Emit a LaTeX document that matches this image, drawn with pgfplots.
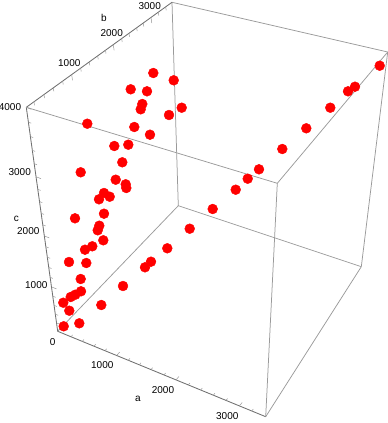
\documentclass[border=0pt]{standalone}
\usepackage{fontspec}
\setmainfont{Liberation Sans}
\usepackage{pgfplots}
\pgfplotsset{compat=1.18}
\definecolor{boxc}{HTML}{9A9A9A}
\definecolor{axc}{HTML}{707070}
\definecolor{txt}{HTML}{404040}
\begin{document}
\begin{tikzpicture}
\useasboundingbox (0,0) rectangle (388pt,423pt);
\begin{axis}[
  at={(0,0)}, anchor=south west,
  scale only axis, width=388pt, height=423pt,
  xmin=0, xmax=388, ymin=0, ymax=423, y dir=reverse,
  hide axis, clip=false, unbounded coords=jump,
  every node/.append style={font=\fontsize{9.3pt}{10pt}\selectfont, text=txt, inner sep=0pt},
]
% back box edges
\addplot[boxc, line width=0.75pt, no markers] table {
x y
57.7 331.3
178.3 205.7
nan nan
178.3 205.7
361.3 266.7
nan nan
178.3 205.7
172 2.3
nan nan
265.7 416.7
361.3 266.7
nan nan
361.3 266.7
387.7 52
nan nan
172 2.3
387.7 52
};
% axis edges
\addplot[axc, line width=0.85pt, no markers] table {
x y
57.7 331.3
265.7 416.7
nan nan
57.7 331.3
26.3 107.3
nan nan
26.3 107.3
172 2.3
};
% ticks
\addplot[boxc, line width=0.5pt, no markers] table {
x y
57.7 331.3
60.6 327.9
nan nan
71 336.8
72.6 334.9
nan nan
82.3 341.4
83.9 339.5
nan nan
94 346.2
95.6 344.3
nan nan
105 350.7
106.6 348.8
nan nan
116.7 355.5
119.6 352.1
nan nan
128.3 360.3
129.9 358.4
nan nan
139.3 364.8
140.9 362.9
nan nan
151 369.6
152.6 367.7
nan nan
164 374.9
165.6 373
nan nan
176 379.9
178.9 376.5
nan nan
188.3 384.9
189.9 383
nan nan
200.7 390
202.3 388.1
nan nan
213.3 395.2
214.9 393.3
nan nan
226 400.4
227.6 398.5
nan nan
239.3 405.9
242.2 402.5
nan nan
251.7 411
253.3 409.1
nan nan
56.5 322.9
59.3 324
nan nan
55.3 314.2
58.1 315.3
nan nan
54.1 305.4
56.9 306.5
nan nan
52.8 296.2
55.6 297.3
nan nan
51.5 286.9
56.5 288.9
nan nan
50.1 277.3
52.9 278.4
nan nan
48.7 267.4
51.5 268.5
nan nan
47.3 257.2
50.1 258.3
nan nan
45.8 246.7
48.6 247.8
nan nan
44.3 235.9
49.3 237.9
nan nan
42.8 224.8
45.6 225.9
nan nan
41.2 213.3
44 214.4
nan nan
39.5 201.5
42.3 202.6
nan nan
37.8 189.3
40.6 190.4
nan nan
36 176.7
41 178.7
nan nan
34.2 163.7
37 164.8
nan nan
32.3 150.3
35.1 151.4
nan nan
30.4 136.5
33.2 137.6
nan nan
28.4 122.1
31.2 123.2
nan nan
26.3 107.3
31.3 109.3
nan nan
34 101.8
34.5 105.3
nan nan
44 94.5
44.5 98
nan nan
53.3 87.8
53.8 91.3
nan nan
62.7 81.1
63.2 84.6
nan nan
71.7 74.6
72.5 80.4
nan nan
80.7 68.1
81.2 71.6
nan nan
89.3 61.9
89.8 65.4
nan nan
97.7 55.8
98.2 59.3
nan nan
105.5 50.2
106 53.7
nan nan
113.3 44.6
114.1 50.4
nan nan
121.7 38.5
122.2 42
nan nan
129 33.3
129.5 36.8
nan nan
136.7 27.7
137.2 31.2
nan nan
143.3 23
143.8 26.5
nan nan
151 17.4
151.8 23.2
nan nan
158.3 12.2
158.8 15.7
nan nan
165.7 6.8
166.2 10.3
};
% data points
\addplot[only marks, color=red, mark=*, mark size=4.95pt, mark options={draw=red, fill=red, line width=0.4pt}] table {
x y
153.3 73.0
173.7 80.3
130.7 89.3
147 91.3
142.3 104
140.7 109.3
181.7 107.7
169 115
87.3 123.7
134.3 127
150 134.7
114.3 146
128.3 144.7
122.3 162.3
80.7 172.3
115.7 179.7
125.7 184.3
126.3 188
104 193
109.7 196.7
99 199.3
104 213.7
75 218.3
99.3 225.7
97.7 230.3
103.3 240.3
92.3 246.3
85 249.7
69 262
86.3 263
80.7 279
81 291.3
75.3 294.7
70.7 297
63.3 302.7
69.3 310.7
79.3 323.3
63.7 326.3
101.3 305
123 286
151 261.7
145 267.3
167.3 248.3
189.7 228.7
379.7 65.7
355 86.7
348 91.3
330.3 107.7
306.3 128.3
282.3 149
259 169.3
247.7 178.7
235.7 189.7
212.7 209
};
% front box edges, over the points
\addplot[boxc, line width=0.75pt, no markers] table {
x y
265.7 416.7
277.3 183.3
nan nan
26.3 107.3
277.3 183.3
nan nan
277.3 183.3
387.7 52
};
\node at (axis cs:138,399.3) {a};
\node at (axis cs:16.3,218.7) {c};
\node at (axis cs:104,17.7) {b};
\node at (axis cs:52.7,342) {0};
\node at (axis cs:102.3,365.4) {1000};
\node at (axis cs:163,390.3) {2000};
\node at (axis cs:227.3,416.3) {3000};
\node at (axis cs:36.3,285.3) {1000};
\node at (axis cs:28.3,231) {2000};
\node at (axis cs:19.7,172.3) {3000};
\node at (axis cs:10,106.7) {4000};
\node at (axis cs:69.3,63.3) {1000};
\node at (axis cs:111.7,33) {2000};
\node at (axis cs:149.7,6) {3000};
\end{axis}
\end{tikzpicture}
\end{document}
